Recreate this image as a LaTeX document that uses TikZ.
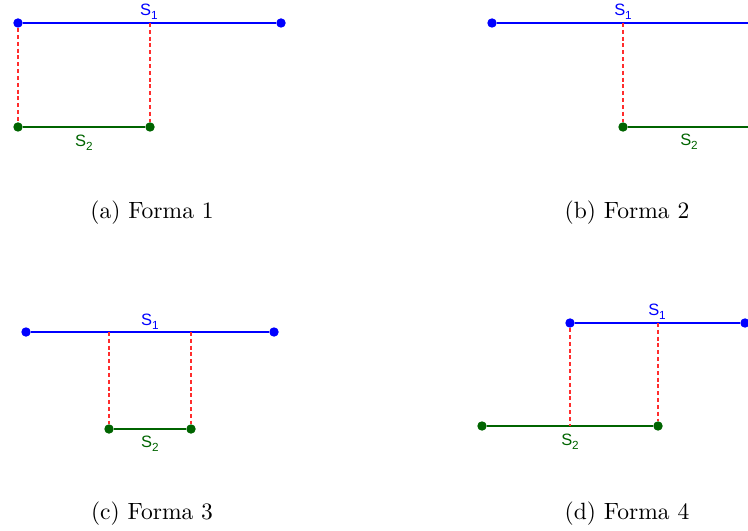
\documentclass[tikz,border=0pt]{standalone}
\usepackage{fontspec}
\newfontfamily\segfont{Liberation Sans}
\newcommand{\seglabel}[1]{{\segfont\fontsize{7}{8}\selectfont S\raisebox{-1.6pt}{\fontsize{5}{6}\selectfont #1}}}
\definecolor{segblue}{RGB}{0,0,255}
\definecolor{seggreen}{RGB}{0,100,0}
\definecolor{projred}{RGB}{255,45,45}

\begin{document}
\begin{tikzpicture}[x=0.425pt,y=-0.425pt,
  ponto/.style={circle,fill,inner sep=0pt,minimum size=4pt},
  seg1/.style={color=segblue,line width=0.65pt},
  seg2/.style={color=seggreen,line width=0.65pt},
  proj/.style={color=projred,line width=0.55pt,dash pattern=on 1.7pt off 1.2pt},
  rotulo/.style={inner sep=0pt}]
\clip (0,0) rectangle (748,531);

% (a) Forma 1
\node[ponto,segblue] (a1) at (18,23) {};
\node[ponto,segblue] (a2) at (281,23) {};
\node[ponto,seggreen] (a3) at (18,127) {};
\node[ponto,seggreen] (a4) at (150,127) {};
\coordinate (ap) at (150,23);
\draw[seg1] (a1) -- (a2);
\draw[seg2] (a3) -- (a4);
\draw[proj] (a1) -- (a3);
\draw[proj] (ap) -- (a4);
\node[rotulo,segblue] (as1) at (149,12) {\seglabel{1}};
\node[rotulo,seggreen] (as2) at (84,143) {\seglabel{2}};
\node (acap) at (152,213) {(a) Forma 1};

% (b) Forma 2
\node[ponto,segblue] (b1) at (492,23) {};
\coordinate (b2) at (770,23);
\node[ponto,seggreen] (b3) at (623,127) {};
\coordinate (b4) at (770,127);
\coordinate (bp) at (623,23);
\draw[seg1] (b1) -- (b2);
\draw[seg2] (b3) -- (b4);
\draw[proj] (bp) -- (b3);
\node[rotulo,segblue] (bs1) at (623,12) {\seglabel{1}};
\node[rotulo,seggreen] (bs2) at (689,142) {\seglabel{2}};
\node (bcap) at (627,213) {(b) Forma 2};

% (c) Forma 3
\node[ponto,segblue] (c1) at (26,332) {};
\node[ponto,segblue] (c2) at (274,332) {};
\node[ponto,seggreen] (c3) at (109,429) {};
\node[ponto,seggreen] (c4) at (191,429) {};
\coordinate (cp1) at (109,332);
\coordinate (cp2) at (191,332);
\draw[seg1] (c1) -- (c2);
\draw[seg2] (c3) -- (c4);
\draw[proj] (cp1) -- (c3);
\draw[proj] (cp2) -- (c4);
\node[rotulo,segblue] (cs1) at (150,322) {\seglabel{1}};
\node[rotulo,seggreen] (cs2) at (150,444) {\seglabel{2}};
\node (ccap) at (152,514) {(c) Forma 3};

% (d) Forma 4
\node[ponto,segblue] (d1) at (570,323) {};
\node[ponto,segblue] (d2) at (745,323) {};
\node[ponto,seggreen] (d3) at (482,426) {};
\node[ponto,seggreen] (d4) at (658,426) {};
\coordinate (dp1) at (570,426);
\coordinate (dp2) at (658,323);
\draw[seg1] (d1) -- (d2);
\draw[seg2] (d3) -- (d4);
\draw[proj] (d1) -- (dp1);
\draw[proj] (dp2) -- (d4);
\node[rotulo,segblue] (ds1) at (657,312) {\seglabel{1}};
\node[rotulo,seggreen] (ds2) at (570,442) {\seglabel{2}};
\node (dcap) at (627,514) {(d) Forma 4};
\end{tikzpicture}
\end{document}
